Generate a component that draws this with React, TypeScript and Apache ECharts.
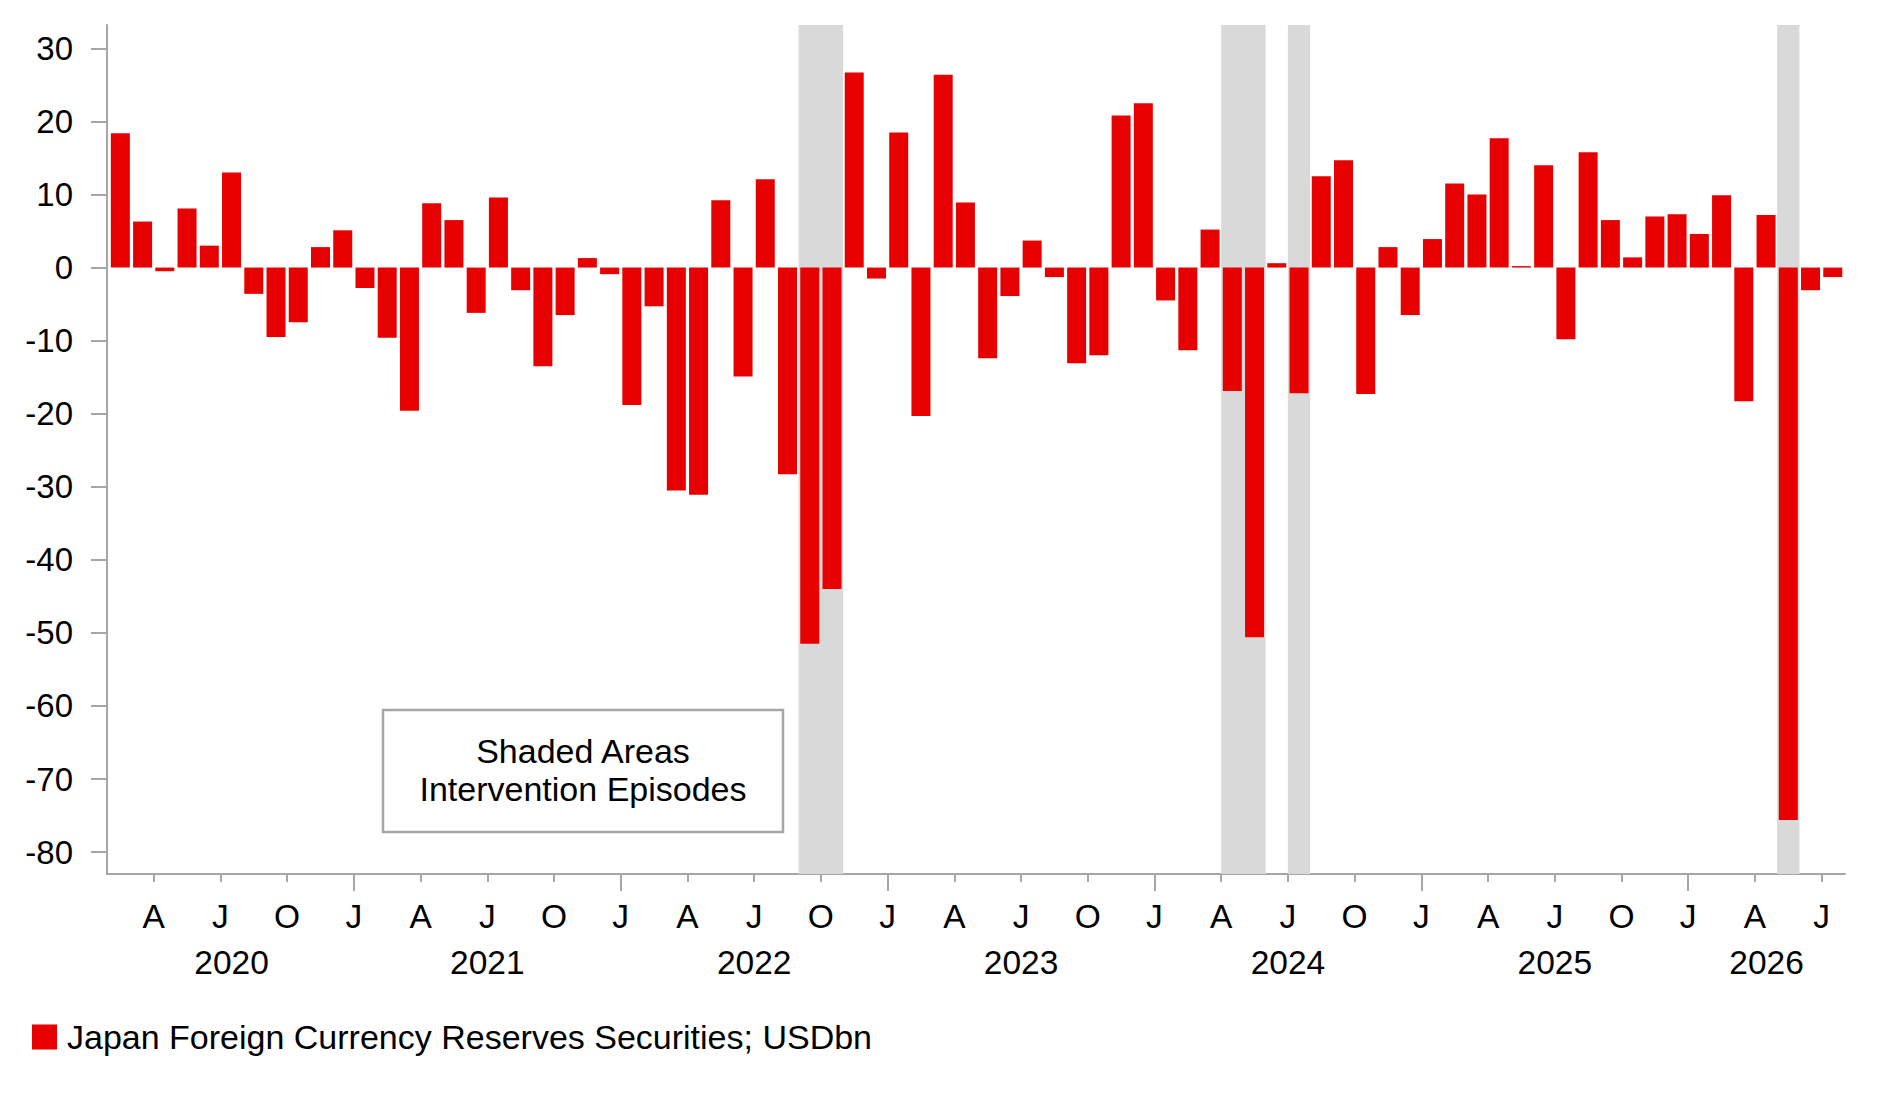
import React, { useEffect, useRef } from "react";
import * as echarts from "echarts";

// ---- data -------------------------------------------------------------
const seriesName = "Japan Foreign Currency Reserves Securities; USDbn";
const startYear = 2020;
const startMonth = 2; // first bar: February 2020

const values2020 = [18.4, 6.3, -0.5, 8.1, 3.0, 13.0, -3.6, -9.5, -7.5, 2.8, 5.1];
const values2021 = [-2.8, -9.6, -19.6, 8.8, 6.5, -6.2, 9.6, -3.1, -13.5, -6.5, 1.3, -0.9];
const values2022 = [-18.8, -5.3, -30.5, -31.1, 9.2, -14.9, 12.1, -28.3, -51.5, -44.0, 26.7, -1.5];
const values2023 = [18.5, -20.3, 26.4, 8.9, -12.4, -3.9, 3.7, -1.3, -13.1, -12.0, 20.8, 22.5];
const values2024 = [-4.5, -11.3, 5.2, -16.9, -50.6, 0.6, -17.2, 12.5, 14.7, -17.3, 2.8, -6.5];
const values2025 = [3.9, 11.5, 10.0, 17.7, 0.2, 14.0, -9.8, 15.8, 6.5, 1.4, 7.0, 7.3];
const values2026 = [4.6, 9.9, -18.3, 7.2, -75.6, -3.1, -1.3];

const interventionEpisodes: [string, string][] = [
  ["2022-09", "2022-10"],
  ["2024-04", "2024-05"],
  ["2024-07", "2024-07"],
  ["2026-05", "2026-05"],
];

const yTicks = [-80, -70, -60, -50, -40, -30, -20, -10, 0, 10, 20, 30];
const quarterLetters: Record<number, string> = { 1: "J", 4: "A", 7: "J", 10: "O" };
const boxLines = ["Shaded Areas", "Intervention Episodes"];

// ---- derived ---------------------------------------------------------
const allValues = [
  ...values2020,
  ...values2021,
  ...values2022,
  ...values2023,
  ...values2024,
  ...values2025,
  ...values2026,
];
const calMonth = (i: number) => ((startMonth - 1 + i) % 12) + 1;
const calYear = (i: number) => startYear + Math.floor((startMonth - 1 + i) / 12);
const months = allValues.map(
  (_, i) => `${calYear(i)}-${String(calMonth(i)).padStart(2, "0")}`
);

const X_MIN = -0.1;
const X_MAX = allValues.length + 0.05;

const idxs = allValues.map((_, i) => i);
const minorTicks = idxs.filter((i) => [4, 7, 10].includes(calMonth(i)));
const majorTicks = idxs.filter((i) => calMonth(i) === 1);
const quarterLabels = idxs.filter((i) => [1, 4, 7, 10].includes(calMonth(i)));

const years = Array.from(new Set(allValues.map((_, i) => calYear(i))));
const yearLabels = years.map((y) => {
  const inYear = idxs.filter((i) => calYear(i) === y);
  const first = inYear[0];
  const last = inYear[inYear.length - 1];
  const a = Math.max(X_MIN, first);
  const b = last === allValues.length - 1 ? X_MAX : last + 1;
  return { value: (a + b) / 2, label: String(y) };
});

const FONT = "'Liberation Sans', Arial, Helvetica, sans-serif";
const AXIS_GRAY = "#a6a6a6";
const RED = "#e60000";
const SHADE = "#d9d9d9";

export default function App() {
  const ref = useRef<HTMLDivElement>(null);

  useEffect(() => {
    if (!ref.current) return;
    const chart = echarts.init(ref.current, undefined, { renderer: "svg" });

    const markData = interventionEpisodes.map(([s, e]) => [
      { xAxis: months.indexOf(s) },
      { xAxis: months.indexOf(e) + 1 },
    ]);

    chart.setOption({
      animation: false,
      backgroundColor: "#ffffff",
      textStyle: { fontFamily: FONT, color: "#000" },
      grid: {
        left: 107,
        right: 38,
        top: 25,
        bottom: 227,
        containLabel: false,
        outerBoundsMode: "none",
      },
      legend: {
        show: true,
        left: 32,
        top: 1020,
        padding: 0,
        itemWidth: 25,
        itemHeight: 25,
        icon: "rect",
        textStyle: { fontSize: 34, color: "#000", fontFamily: FONT, padding: [0, 0, 0, 5] },
        data: [seriesName],
      },
      xAxis: [
        {
          type: "value",
          min: X_MIN,
          max: X_MAX,
          position: "bottom",
          splitLine: { show: false },
          axisLine: { show: true, onZero: false, lineStyle: { color: AXIS_GRAY, width: 2 } },
          axisTick: {
            show: true,
            length: 8,
            customValues: minorTicks,
            lineStyle: { color: AXIS_GRAY, width: 2 },
          },
          axisLabel: {
            show: true,
            customValues: quarterLabels,
            margin: 25,
            fontSize: 33.5,
            color: "#000",
            fontFamily: FONT,
            formatter: (v: number) => quarterLetters[calMonth(Math.round(v))] || "",
          },
        },
        {
          type: "value",
          min: X_MIN,
          max: X_MAX,
          position: "bottom",
          splitLine: { show: false },
          axisLine: { show: false, onZero: false },
          axisTick: {
            show: true,
            length: 17,
            customValues: majorTicks,
            lineStyle: { color: AXIS_GRAY, width: 2 },
          },
          axisLabel: {
            show: true,
            customValues: yearLabels.map((d) => d.value),
            margin: 71,
            fontSize: 33.5,
            color: "#000",
            fontFamily: FONT,
            formatter: (v: number) => {
              let best = yearLabels[0];
              yearLabels.forEach((d) => {
                if (Math.abs(d.value - v) < Math.abs(best.value - v)) best = d;
              });
              return best.label;
            },
          },
        },
      ],
      yAxis: {
        type: "value",
        min: -83,
        max: 33.2,
        splitLine: { show: false },
        axisLine: { show: true, onZero: false, lineStyle: { color: AXIS_GRAY, width: 2 } },
        axisTick: {
          show: true,
          length: 16,
          customValues: yTicks,
          lineStyle: { color: AXIS_GRAY, width: 2 },
        },
        axisLabel: {
          show: true,
          customValues: yTicks,
          margin: 34,
          fontSize: 33,
          color: "#000",
          fontFamily: FONT,
        },
      },
      series: [
        {
          name: seriesName,
          type: "bar",
          xAxisIndex: 0,
          yAxisIndex: 0,
          barWidth: 19,
          itemStyle: { color: RED },
          data: allValues.map((v, i) => [i + 0.5, v]),
          markArea: {
            silent: true,
            z: 1,
            itemStyle: { color: SHADE, opacity: 1 },
            label: { show: false },
            data: markData,
          },
        },
      ],
      graphic: [
        {
          type: "rect",
          shape: { x: 383, y: 710, width: 400, height: 122 },
          style: { fill: "#ffffff", stroke: AXIS_GRAY, lineWidth: 2.5 },
          z: 10,
        },
        {
          type: "text",
          x: 583,
          y: 770,
          z: 11,
          style: {
            text: boxLines.join("\n"),
            fontSize: 34,
            lineHeight: 38.5,
            fontFamily: FONT,
            fill: "#000",
            align: "center",
            verticalAlign: "middle",
          },
        },
      ],
    });

    return () => chart.dispose();
  }, []);

  return (
    <div
      ref={ref}
      style={{ position: "absolute", left: 0, top: 0, width: 1883, height: 1101, background: "#fff" }}
    />
  );
}
